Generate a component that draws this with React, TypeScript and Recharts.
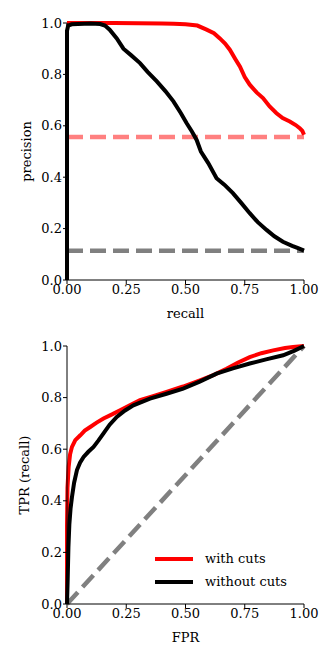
import { LineChart, Line, XAxis, YAxis, Legend } from 'recharts';

// precision-recall curves
const prWithCuts = [
  { x: 0, y: 1 }, { x: 0.1, y: 1 }, { x: 0.2, y: 1 }, { x: 0.3, y: 0.999 },
  { x: 0.4, y: 0.998 }, { x: 0.45, y: 0.997 }, { x: 0.5, y: 0.995 }, { x: 0.55, y: 0.99 },
  { x: 0.589, y: 0.974 }, { x: 0.62, y: 0.96 }, { x: 0.645, y: 0.94 }, { x: 0.667, y: 0.92 },
  { x: 0.687, y: 0.896 }, { x: 0.71, y: 0.86 }, { x: 0.73, y: 0.83 }, { x: 0.75, y: 0.79 },
  { x: 0.771, y: 0.76 }, { x: 0.8, y: 0.73 }, { x: 0.827, y: 0.708 }, { x: 0.855, y: 0.675 },
  { x: 0.884, y: 0.649 }, { x: 0.91, y: 0.63 }, { x: 0.94, y: 0.617 }, { x: 0.965, y: 0.603 },
  { x: 0.982, y: 0.591 }, { x: 0.993, y: 0.58 }, { x: 1, y: 0.565 },
];

const prWithoutCuts = [
  { x: 0, y: 0 }, { x: 0, y: 0.97 }, { x: 0.005, y: 0.99 }, { x: 0.02, y: 0.995 },
  { x: 0.1, y: 0.998 }, { x: 0.14, y: 0.996 }, { x: 0.16, y: 0.99 }, { x: 0.18, y: 0.974 },
  { x: 0.21, y: 0.94 }, { x: 0.238, y: 0.9 }, { x: 0.27, y: 0.875 }, { x: 0.308, y: 0.844 },
  { x: 0.34, y: 0.81 }, { x: 0.379, y: 0.773 }, { x: 0.415, y: 0.735 }, { x: 0.449, y: 0.695 },
  { x: 0.48, y: 0.65 }, { x: 0.505, y: 0.61 }, { x: 0.527, y: 0.578 }, { x: 0.547, y: 0.545 },
  { x: 0.565, y: 0.5 }, { x: 0.596, y: 0.455 }, { x: 0.631, y: 0.396 }, { x: 0.665, y: 0.37 },
  { x: 0.7, y: 0.338 }, { x: 0.735, y: 0.3 }, { x: 0.771, y: 0.26 }, { x: 0.805, y: 0.225 },
  { x: 0.842, y: 0.195 }, { x: 0.875, y: 0.17 }, { x: 0.911, y: 0.149 }, { x: 0.95, y: 0.133 },
  { x: 0.975, y: 0.124 }, { x: 1, y: 0.114 },
];

// baselines (positive fraction)
const baseWithCuts = [{ x: 0, y: 0.556 }, { x: 1, y: 0.556 }];
const baseWithoutCuts = [{ x: 0, y: 0.114 }, { x: 1, y: 0.114 }];

// ROC curves
const rocWithCuts = [
  { x: 0, y: 0 }, { x: 0, y: 0.3 }, { x: 0.002, y: 0.45 }, { x: 0.007, y: 0.532 },
  { x: 0.013, y: 0.58 }, { x: 0.021, y: 0.609 }, { x: 0.035, y: 0.635 }, { x: 0.056, y: 0.654 },
  { x: 0.075, y: 0.672 }, { x: 0.098, y: 0.686 }, { x: 0.125, y: 0.703 }, { x: 0.154, y: 0.719 },
  { x: 0.19, y: 0.735 }, { x: 0.224, y: 0.751 }, { x: 0.265, y: 0.77 }, { x: 0.308, y: 0.79 },
  { x: 0.36, y: 0.805 }, { x: 0.42, y: 0.822 }, { x: 0.49, y: 0.843 }, { x: 0.561, y: 0.867 },
  { x: 0.62, y: 0.888 }, { x: 0.673, y: 0.912 }, { x: 0.72, y: 0.935 }, { x: 0.771, y: 0.957 },
  { x: 0.82, y: 0.972 }, { x: 0.87, y: 0.983 }, { x: 0.92, y: 0.992 }, { x: 0.954, y: 0.996 },
  { x: 1, y: 1 },
];

const rocWithoutCuts = [
  { x: 0, y: 0 }, { x: 0.003, y: 0.1 }, { x: 0.006, y: 0.22 }, { x: 0.01, y: 0.31 },
  { x: 0.015, y: 0.37 }, { x: 0.021, y: 0.415 }, { x: 0.03, y: 0.47 }, { x: 0.042, y: 0.519 },
  { x: 0.055, y: 0.548 }, { x: 0.07, y: 0.57 }, { x: 0.09, y: 0.59 }, { x: 0.112, y: 0.609 },
  { x: 0.133, y: 0.634 }, { x: 0.154, y: 0.661 }, { x: 0.18, y: 0.695 }, { x: 0.21, y: 0.725 },
  { x: 0.245, y: 0.75 }, { x: 0.28, y: 0.77 }, { x: 0.35, y: 0.796 }, { x: 0.42, y: 0.815 },
  { x: 0.49, y: 0.835 }, { x: 0.56, y: 0.862 }, { x: 0.631, y: 0.893 }, { x: 0.7, y: 0.913 },
  { x: 0.771, y: 0.932 }, { x: 0.84, y: 0.948 }, { x: 0.912, y: 0.964 }, { x: 0.96, y: 0.982 },
  { x: 1, y: 1 },
];

const chance = [{ x: 0, y: 0 }, { x: 1, y: 1 }];

const xTicks = [0, 0.25, 0.5, 0.75, 1];
const yTicks = [0, 0.2, 0.4, 0.6, 0.8, 1];

const FONT = 'DejaVu Serif';
const tickStyle = { fill: '#000', fontSize: 13, fontFamily: FONT };
const labelStyle = { fill: '#000', fontSize: 13, fontFamily: FONT, textAnchor: 'middle' as const };

function frameAxes() {
  return [
    <XAxis key="top" xAxisId="top" orientation="top" type="number" domain={[0, 1]}
      height={0} tick={false} tickLine={false} axisLine={{ stroke: '#000' }} />,
    <YAxis key="right" yAxisId="right" orientation="right" type="number" domain={[0, 1]}
      width={0} tick={false} tickLine={false} axisLine={{ stroke: '#000' }} />,
  ];
}

function LegendBox(props: any) {
  const items = (props.payload || []).filter((p: any) => p.type !== 'none');
  return (
    <div style={{ fontFamily: FONT, fontSize: 13, color: '#000' }}>
      {items.map((p: any) => (
        <div key={p.value} style={{ display: 'flex', alignItems: 'center', height: 23 }}>
          <span style={{ display: 'inline-block', width: 38, height: 4, background: p.color, marginRight: 12 }} />
          <span>{p.value}</span>
        </div>
      ))}
    </div>
  );
}

export default function App() {
  return (
    <div style={{ position: 'absolute', left: 0, top: 0, width: 332, height: 664, background: '#fff' }}>
      <LineChart width={332} height={330} margin={{ top: 23, right: 28, left: 0, bottom: 0 }}>
        <XAxis dataKey="x" type="number" domain={[0, 1]} ticks={xTicks} interval={0}
          tickFormatter={(v: number) => v.toFixed(2)} tick={tickStyle} tickSize={4} tickMargin={1}
          height={50} axisLine={{ stroke: '#000' }} tickLine={{ stroke: '#000' }}
          label={{ value: 'recall', position: 'insideBottom', offset: 12, style: labelStyle }} />
        <YAxis type="number" domain={[0, 1]} ticks={yTicks} interval={0}
          tickFormatter={(v: number) => v.toFixed(1)} tick={tickStyle} tickSize={4} tickMargin={1}
          width={67} axisLine={{ stroke: '#000' }} tickLine={{ stroke: '#000' }}
          label={{ value: 'precision', angle: -90, position: 'insideLeft', offset: 26, style: labelStyle }} />
        {frameAxes()}
        <Line data={baseWithCuts} dataKey="y" stroke="#ff8080" strokeWidth={4.5} strokeDasharray="16 7"
          dot={false} isAnimationActive={false} legendType="none" />
        <Line data={baseWithoutCuts} dataKey="y" stroke="#808080" strokeWidth={4.5} strokeDasharray="16 7"
          dot={false} isAnimationActive={false} legendType="none" />
        <Line data={prWithCuts} dataKey="y" name="with cuts" type="linear" stroke="#ff0000" strokeWidth={4}
          dot={false} isAnimationActive={false} />
        <Line data={prWithoutCuts} dataKey="y" name="without cuts" type="linear" stroke="#000000" strokeWidth={4}
          dot={false} isAnimationActive={false} />
      </LineChart>
      <LineChart width={332} height={334} margin={{ top: 16, right: 28, left: 0, bottom: 0 }}>
        <XAxis dataKey="x" type="number" domain={[0, 1]} ticks={xTicks} interval={0}
          tickFormatter={(v: number) => v.toFixed(2)} tick={tickStyle} tickSize={4} tickMargin={1}
          height={60} axisLine={{ stroke: '#000' }} tickLine={{ stroke: '#000' }}
          label={{ value: 'FPR', position: 'insideBottom', offset: 22, style: labelStyle }} />
        <YAxis type="number" domain={[0, 1]} ticks={yTicks} interval={0}
          tickFormatter={(v: number) => v.toFixed(1)} tick={tickStyle} tickSize={4} tickMargin={1}
          width={67} axisLine={{ stroke: '#000' }} tickLine={{ stroke: '#000' }}
          label={{ value: 'TPR (recall)', angle: -90, position: 'insideLeft', offset: 24, style: labelStyle }} />
        {frameAxes()}
        <Line data={chance} dataKey="y" stroke="#808080" strokeWidth={4.5} strokeDasharray="16 7"
          dot={false} isAnimationActive={false} legendType="none" />
        <Line data={rocWithCuts} dataKey="y" name="with cuts" type="linear" stroke="#ff0000" strokeWidth={4}
          dot={false} isAnimationActive={false} />
        <Line data={rocWithoutCuts} dataKey="y" name="without cuts" type="linear" stroke="#000000" strokeWidth={4}
          dot={false} isAnimationActive={false} />
        <Legend content={<LegendBox />} layout="vertical" align="center" verticalAlign="middle"
          wrapperStyle={{ position: 'absolute', left: 155, top: 217, width: 150 }} />
      </LineChart>
    </div>
  );
}
